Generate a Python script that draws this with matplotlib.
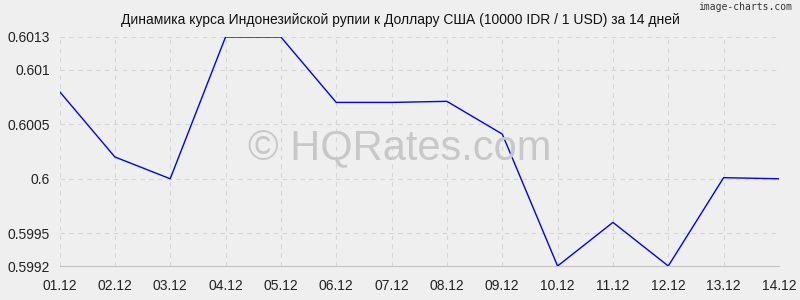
import matplotlib
matplotlib.use("Agg")
import matplotlib.pyplot as plt

dates = ["01.12", "02.12", "03.12", "04.12", "05.12", "06.12", "07.12",
         "08.12", "09.12", "10.12", "11.12", "12.12", "13.12", "14.12"]
rates = [0.6008, 0.6002, 0.6000, 0.6013, 0.6013, 0.60070, 0.60070,
         0.60071, 0.60041, 0.5992, 0.5996, 0.5992, 0.60001, 0.6000]
yticks = [0.5992, 0.5995, 0.6, 0.6005, 0.601, 0.6013]
ytick_labels = ["0.5992", "0.5995", "0.6", "0.6005", "0.601", "0.6013"]
title = "Динамика курса Индонезийской рупии к Доллару США (10000 IDR / 1 USD) за 14 дней"

plt.rcParams['font.family'] = ['Liberation Sans', 'DejaVu Sans']
bg = "#efefef"
fig = plt.figure(figsize=(8, 3), dpi=100, facecolor=bg)
ax = fig.add_axes([0.0744, 0.1133, 0.8993, 0.7634], facecolor=bg)

x = list(range(len(dates)))
ax.plot(x, rates, color="#0000ff", lw=1.0, zorder=3)

ax.set_xlim(0, len(dates) - 1)
ax.set_ylim(min(yticks), max(yticks))
ax.set_xticks(x)
ax.set_xticklabels(dates)
ax.set_yticks(yticks)
ax.set_yticklabels(ytick_labels)
ax.tick_params(axis='both', length=0, labelsize=10, colors="#222222")
ax.tick_params(axis='y', pad=7)
ax.tick_params(axis='x', pad=9)
ax.grid(True, color="#d6d6d6", ls=(0, (4, 4)), lw=0.8)
for s in ["top", "right", "left"]:
    ax.spines[s].set_visible(False)
ax.spines["bottom"].set_color("#c4c4c4")
ax.spines["bottom"].set_linewidth(0.8)

fig.text(0.5, 0.932, title, ha="center", va="center", fontsize=10, color="#111111")
fig.text(0.99, 0.977, "image-charts.com", ha="right", va="center", fontsize=7,
         color="#333333", family="DejaVu Sans Mono")
fig.text(0.5, 0.507, "© HQRates.com", ha="center", va="center",
         fontsize=30, color="#c8c8c8", zorder=1)

fig.savefig("out.png", dpi=100, facecolor=bg)
